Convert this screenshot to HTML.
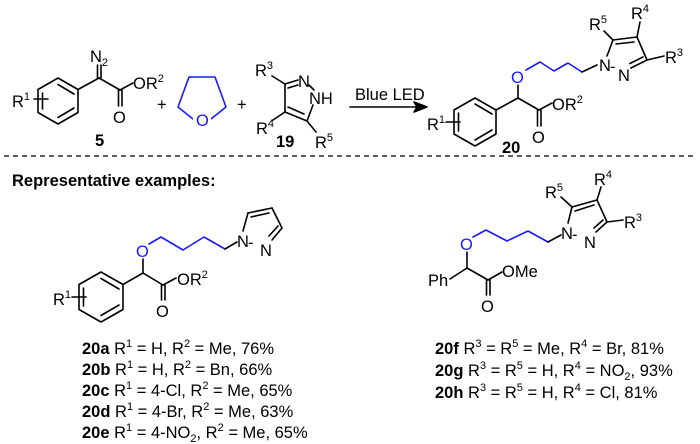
<!DOCTYPE html>
<html><head><meta charset="utf-8"><style>
html,body{margin:0;padding:0;background:#fff;}
svg{display:block;}
text{font-family:"Liberation Sans",Arial,sans-serif;fill:#000;}
.a{font-size:16.5px;}
.s{font-size:11px;}
.b{font-weight:bold;}
.bl{fill:#1a1aff;}
line,polyline,polygon{stroke:#000;stroke-width:1.6;fill:none;stroke-linecap:round;stroke-linejoin:round;}
.blue{stroke:#1a1aff;}
</style></head><body>
<svg width="700" height="444" viewBox="0 0 700 444" xmlns="http://www.w3.org/2000/svg">
<!-- ===== compound 5 ===== -->
<polygon points="58,78 78,89.5 78,112.5 58,124 38,112.5 38,89.5"/>
<line x1="74" y1="94" x2="58" y2="84.5"/>
<line x1="74" y1="108" x2="58" y2="117.5"/>
<line x1="42.5" y1="93" x2="42.5" y2="109"/>
<line x1="34" y1="99" x2="48" y2="99"/>
<text class="a" x="12" y="107">R<tspan class="s" dy="-7">1</tspan></text>
<line x1="78" y1="89.5" x2="99" y2="78"/>
<line x1="97.5" y1="78" x2="97.5" y2="65"/>
<line x1="101" y1="78" x2="101" y2="65"/>
<text class="a" x="90" y="62">N<tspan class="s" dy="4">2</tspan></text>
<line x1="99" y1="78" x2="120" y2="90"/>
<line x1="118.5" y1="90" x2="118.5" y2="106"/>
<line x1="122" y1="90" x2="122" y2="106"/>
<text class="a" x="113" y="123">O</text>
<line x1="120" y1="90" x2="133" y2="83"/>
<text class="a" x="133" y="89">OR<tspan class="s" dy="-7">2</tspan></text>
<text class="a b" x="95" y="146">5</text>
<text class="a" x="157" y="110">+</text>
<!-- THF -->
<polygon class="blue" points="189,77 215,77 226,107 211,119 193,119 178,107"/>
<rect x="193" y="110" width="18" height="17" fill="#fff"/>
<text class="a bl" x="196" y="126">O</text>
<text class="a" x="237" y="110">+</text>
<!-- pyrazole 19 -->
<line x1="285" y1="84" x2="298" y2="80"/>
<line x1="288" y1="88" x2="298" y2="85"/>
<line x1="285" y1="84" x2="285" y2="112"/>
<line x1="285" y1="112" x2="307" y2="121"/>
<line x1="288" y1="107" x2="304" y2="114"/>
<line x1="307" y1="121" x2="313" y2="105"/>
<line x1="309" y1="85" x2="314" y2="90"/>
<line x1="285" y1="84" x2="272" y2="76"/>
<text class="a" x="298" y="87">N</text>
<text class="a" x="309" y="104">NH</text>
<text class="a" x="255" y="76">R<tspan class="s" dy="-7">3</tspan></text>
<line x1="285" y1="112" x2="273" y2="120"/>
<text class="a" x="256" y="134">R<tspan class="s" dy="-7">4</tspan></text>
<line x1="307" y1="121" x2="316" y2="132"/>
<text class="a" x="315" y="148">R<tspan class="s" dy="-7">5</tspan></text>
<text class="a b" x="276" y="147">19</text>
<!-- arrow -->
<line x1="350" y1="107" x2="420" y2="107"/>
<polygon points="427,107 414,102 417,107 414,112" style="fill:#000"/>
<text class="a" x="355" y="100">Blue LED</text>
<!-- ===== product 20 ===== -->
<polygon points="475,98 496,110 496,134 475,146 454,134 454,110"/>
<line x1="492" y1="114" x2="475" y2="104"/>
<line x1="492" y1="130" x2="475" y2="140"/>
<line x1="458.5" y1="113" x2="458.5" y2="131"/>
<line x1="446" y1="122" x2="460" y2="122"/>
<text class="a" x="427" y="130">R<tspan class="s" dy="-7">1</tspan></text>
<line x1="496" y1="110" x2="518" y2="98"/>
<line x1="518" y1="98" x2="518" y2="85"/>
<text class="a bl" x="511" y="83">O</text>
<line x1="518" y1="98" x2="539" y2="110"/>
<line x1="537.5" y1="110" x2="537.5" y2="126"/>
<line x1="541" y1="110" x2="541" y2="126"/>
<text class="a" x="532" y="143">O</text>
<line x1="539" y1="110" x2="552" y2="103"/>
<text class="a" x="552" y="110">OR<tspan class="s" dy="-7">2</tspan></text>
<text class="a b" x="502" y="153">20</text>
<polyline class="blue" points="526,70 540,62 554,71 568,63 582,72"/>
<line x1="582" y1="72" x2="597" y2="65"/>
<text class="a" x="599" y="71">N</text>
<text class="a" x="610" y="72">-</text>
<text class="a" x="618" y="81">N</text>
<line x1="607" y1="56" x2="613" y2="40"/>
<line x1="613" y1="40" x2="637" y2="37"/>
<line x1="616" y1="44" x2="634" y2="42"/>
<line x1="637" y1="37" x2="647" y2="60"/>
<line x1="647" y1="60" x2="631" y2="68"/>
<line x1="643" y1="57" x2="630" y2="63.5"/>
<line x1="613" y1="40" x2="604" y2="31"/>
<text class="a" x="589" y="30">R<tspan class="s" dy="-7">5</tspan></text>
<line x1="637" y1="37" x2="640" y2="22"/>
<text class="a" x="631" y="19">R<tspan class="s" dy="-7">4</tspan></text>
<line x1="647" y1="60" x2="664" y2="56"/>
<text class="a" x="665" y="63">R<tspan class="s" dy="-7">3</tspan></text>
<!-- dashed separator -->
<line x1="4" y1="156" x2="696" y2="156" style="stroke-dasharray:5,4;stroke-width:1.3;stroke-linecap:butt"/>
<text class="a b" x="12" y="186">Representative examples:</text>
<!-- ===== example left ===== -->
<polygon points="101,272 123,284.5 123,309.5 101,322 79,309.5 79,284.5"/>
<line x1="119" y1="289" x2="101" y2="278.5"/>
<line x1="119" y1="305" x2="101" y2="315.5"/>
<line x1="83.5" y1="288" x2="83.5" y2="306"/>
<line x1="72" y1="297" x2="86" y2="297"/>
<text class="a" x="53" y="305">R<tspan class="s" dy="-7">1</tspan></text>
<line x1="123" y1="284.5" x2="143" y2="273"/>
<line x1="143" y1="273" x2="143" y2="259"/>
<text class="a bl" x="136" y="257">O</text>
<line x1="143" y1="273" x2="163" y2="285"/>
<line x1="161.5" y1="285" x2="161.5" y2="300"/>
<line x1="165" y1="285" x2="165" y2="300"/>
<text class="a" x="156" y="317">O</text>
<line x1="163" y1="285" x2="176" y2="278"/>
<text class="a" x="177" y="285">OR<tspan class="s" dy="-7">2</tspan></text>
<polyline class="blue" points="149,244 161,237 183,250 204,237 225,249"/>
<line x1="225" y1="249" x2="237" y2="242"/>
<text class="a" x="237" y="247">N</text>
<text class="a" x="248" y="248">-</text>
<text class="a" x="260" y="256">N</text>
<line x1="243" y1="231" x2="248" y2="213"/>
<line x1="248" y1="213" x2="272" y2="208"/>
<line x1="251" y1="217" x2="269" y2="213"/>
<line x1="272" y1="208" x2="282" y2="228"/>
<line x1="282" y1="228" x2="272" y2="240"/>
<line x1="278" y1="226" x2="269" y2="236"/>
<text class="a" x="82" y="354"><tspan class="b">20a</tspan> R<tspan class="s" dy="-7">1</tspan><tspan dy="7"> = H, R</tspan><tspan class="s" dy="-7">2</tspan><tspan dy="7"> = Me, 76%</tspan></text>
<text class="a" x="82" y="375"><tspan class="b">20b</tspan> R<tspan class="s" dy="-7">1</tspan><tspan dy="7"> = H, R</tspan><tspan class="s" dy="-7">2</tspan><tspan dy="7"> = Bn, 66%</tspan></text>
<text class="a" x="82" y="396"><tspan class="b">20c</tspan> R<tspan class="s" dy="-7">1</tspan><tspan dy="7"> = 4-Cl, R</tspan><tspan class="s" dy="-7">2</tspan><tspan dy="7"> = Me, 65%</tspan></text>
<text class="a" x="82" y="417"><tspan class="b">20d</tspan> R<tspan class="s" dy="-7">1</tspan><tspan dy="7"> = 4-Br, R</tspan><tspan class="s" dy="-7">2</tspan><tspan dy="7"> = Me, 63%</tspan></text>
<text class="a" x="82" y="438"><tspan class="b">20e</tspan> R<tspan class="s" dy="-7">1</tspan><tspan dy="7"> = 4-NO</tspan><tspan class="s" dy="4">2</tspan><tspan dy="-4">, R</tspan><tspan class="s" dy="-7">2</tspan><tspan dy="7"> = Me, 65%</tspan></text>
<!-- ===== example right ===== -->
<text class="a" x="428" y="286">Ph</text>
<line x1="450" y1="279" x2="467" y2="268"/>
<line x1="467" y1="268" x2="467" y2="252"/>
<text class="a bl" x="460" y="250">O</text>
<line x1="467" y1="268" x2="488" y2="280"/>
<line x1="486.5" y1="280" x2="486.5" y2="295"/>
<line x1="490" y1="280" x2="490" y2="295"/>
<text class="a" x="481" y="312">O</text>
<line x1="488" y1="280" x2="502" y2="272"/>
<text class="a" x="502" y="277">OMe</text>
<polyline class="blue" points="473,237 486,230 507,241 528,231 548,242"/>
<line x1="548" y1="242" x2="561" y2="235"/>
<text class="a" x="561" y="239">N</text>
<text class="a" x="572" y="240">-</text>
<text class="a" x="584" y="248">N</text>
<line x1="568" y1="223" x2="572" y2="207"/>
<line x1="572" y1="207" x2="597" y2="200"/>
<line x1="575" y1="211" x2="594" y2="205"/>
<line x1="597" y1="200" x2="607" y2="222"/>
<line x1="607" y1="222" x2="596" y2="232"/>
<line x1="603" y1="220" x2="594" y2="228"/>
<line x1="572" y1="207" x2="561" y2="197"/>
<text class="a" x="545" y="198">R<tspan class="s" dy="-7">5</tspan></text>
<line x1="597" y1="200" x2="601" y2="187"/>
<text class="a" x="594" y="185">R<tspan class="s" dy="-7">4</tspan></text>
<line x1="607" y1="222" x2="623" y2="220"/>
<text class="a" x="624" y="228">R<tspan class="s" dy="-7">3</tspan></text>
<text class="a" x="435" y="354"><tspan class="b">20f</tspan> R<tspan class="s" dy="-7">3</tspan><tspan dy="7"> = R</tspan><tspan class="s" dy="-7">5</tspan><tspan dy="7"> = Me, R</tspan><tspan class="s" dy="-7">4</tspan><tspan dy="7"> = Br, 81%</tspan></text>
<text class="a" x="435" y="376"><tspan class="b">20g</tspan> R<tspan class="s" dy="-7">3</tspan><tspan dy="7"> = R</tspan><tspan class="s" dy="-7">5</tspan><tspan dy="7"> = H, R</tspan><tspan class="s" dy="-7">4</tspan><tspan dy="7"> = NO</tspan><tspan class="s" dy="4">2</tspan><tspan dy="-4">, 93%</tspan></text>
<text class="a" x="435" y="398"><tspan class="b">20h</tspan> R<tspan class="s" dy="-7">3</tspan><tspan dy="7"> = R</tspan><tspan class="s" dy="-7">5</tspan><tspan dy="7"> = H, R</tspan><tspan class="s" dy="-7">4</tspan><tspan dy="7"> = Cl, 81%</tspan></text>
</svg>
</body></html>
